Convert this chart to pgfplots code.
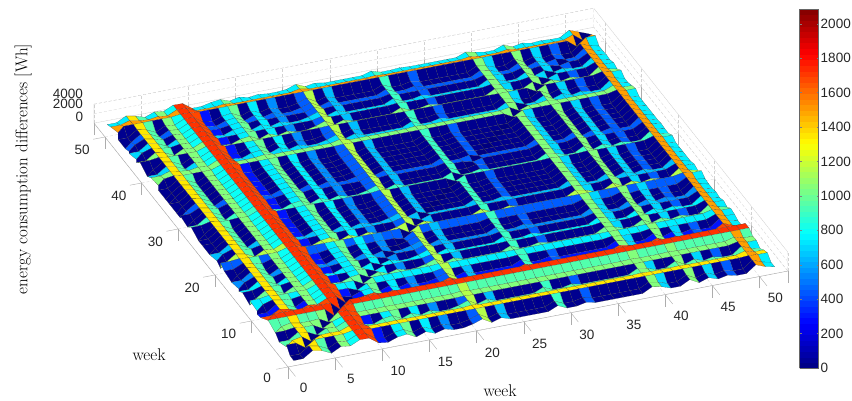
\documentclass[border=0pt]{standalone}
\usepackage{pgfplots}
\pgfplotsset{compat=1.18}
\usepackage{fontspec}
\newfontfamily\lsans{Liberation Sans}
\definecolor{axg}{gray}{0.68}
\begin{document}
\begin{tikzpicture}[x=1pt,y=1pt]
\path[use as bounding box] (0,0) rectangle (852,401);
\begin{axis}[
  at={(288pt,34pt)},anchor=origin,
  x={(9.43pt,1.81pt)},y={(-3.66pt,4.6pt)},z={(0pt,0.00475pt)},
  xmin=0,xmax=53,ymin=0,ymax=53,zmin=0,zmax=4000,
  xtick={0,5,...,50},ytick={0,10,...,50},ztick={0,2000,4000},
  xtick pos=left,ytick pos=left,ztick pos=left,
  grid=major,grid style={densely dashed,gray!35,line width=0.3pt},
  axis line style={draw=none},
  tick style={axg,line width=0.4pt},
  ztick style={draw=none},
  tick align=outside,major tick length=12pt,
  tick label style={font=\lsans\fontsize{13.5}{13.5}\selectfont,text=black!85},
  xticklabel style={xshift=5pt,yshift=-2.5pt},
  yticklabel style={xshift=-2pt,yshift=0pt},
  zticklabel style={yshift=-6pt},
  /pgf/number format/assume math mode=true,
  /pgf/number format/1000 sep={},
  colormap/jet,point meta min=0,point meta max=2086,
  clip=false,
]
\draw[axg,line width=0.4pt] (axis cs:53,0,0)--(axis cs:0,0,0)--(axis cs:0,53,0)--(axis cs:0,53,4000);
\draw[densely dashed,gray!35,line width=0.3pt] (axis cs:0,53,4000)--(axis cs:53,53,4000)--(axis cs:53,0,4000)--(axis cs:53,0,0)--(axis cs:53,53,0)--(axis cs:0,53,0) (axis cs:53,53,0)--(axis cs:53,53,4000);
\addplot3[surf,shader=flat corner,draw=black!75,line width=0.08pt,mesh/rows=52,mesh/cols=52,point meta=\thisrowno{0}] table[row sep=\\,x expr={mod(\coordindex,52)+1},y expr={floor(\coordindex/52)+1},z index=0]{
v\\
0\\30\\1350\\950\\30\\1050\\800\\1720\\1680\\300\\ 30\\750\\1000\\30\\750\\30\\550\\30\\30\\450\\ 1150\\30\\650\\30\\30\\30\\30\\30\\900\\30\\ 30\\450\\30\\30\\30\\30\\30\\30\\1050\\700\\ 30\\30\\1050\\30\\700\\30\\450\\30\\30\\1500\\ 750\\300\\
30\\0\\1350\\950\\30\\1050\\800\\1720\\1680\\300\\ 30\\750\\1000\\30\\750\\30\\550\\30\\30\\450\\ 1150\\30\\650\\30\\30\\30\\30\\30\\900\\30\\ 30\\450\\30\\30\\30\\30\\30\\30\\1050\\700\\ 30\\30\\1050\\30\\700\\30\\450\\30\\30\\1500\\ 750\\300\\
1350\\1350\\0\\1350\\1350\\1350\\1350\\1720\\1680\\1350\\ 1350\\1350\\1350\\1350\\1350\\1350\\1350\\1350\\1350\\1350\\ 1350\\1350\\1350\\1350\\1350\\1350\\1350\\1350\\1350\\1350\\ 1350\\1350\\1350\\1350\\1350\\1350\\1350\\1350\\1350\\1350\\ 1350\\1350\\1350\\1350\\1350\\1350\\1350\\1350\\1350\\1500\\ 1350\\1350\\
950\\950\\1350\\0\\950\\1050\\950\\1720\\1680\\950\\ 950\\950\\1000\\950\\950\\950\\950\\950\\950\\950\\ 1150\\950\\950\\950\\950\\950\\950\\950\\950\\950\\ 950\\950\\950\\950\\950\\950\\950\\950\\1050\\950\\ 950\\950\\1050\\950\\950\\950\\950\\950\\950\\1500\\ 950\\950\\
30\\30\\1350\\950\\0\\1050\\800\\1720\\1680\\300\\ 30\\750\\1000\\30\\750\\30\\550\\30\\30\\450\\ 1150\\30\\650\\30\\30\\30\\30\\30\\900\\30\\ 30\\450\\30\\30\\30\\30\\30\\30\\1050\\700\\ 30\\30\\1050\\30\\700\\30\\450\\30\\30\\1500\\ 750\\300\\
1050\\1050\\1350\\1050\\1050\\0\\1050\\1720\\1680\\1050\\ 1050\\1050\\1050\\1050\\1050\\1050\\1050\\1050\\1050\\1050\\ 1150\\1050\\1050\\1050\\1050\\1050\\1050\\1050\\1050\\1050\\ 1050\\1050\\1050\\1050\\1050\\1050\\1050\\1050\\1050\\1050\\ 1050\\1050\\1050\\1050\\1050\\1050\\1050\\1050\\1050\\1500\\ 1050\\1050\\
950\\950\\1350\\950\\950\\1050\\0\\1720\\1680\\950\\ 950\\950\\1000\\950\\950\\950\\950\\950\\950\\950\\ 1150\\950\\950\\950\\950\\950\\950\\950\\950\\950\\ 950\\950\\950\\950\\950\\950\\950\\950\\1050\\950\\ 950\\950\\1050\\950\\950\\950\\950\\950\\950\\1500\\ 950\\950\\
1720\\1720\\1720\\1720\\1720\\1720\\1720\\0\\1720\\1720\\ 1720\\1720\\1720\\1720\\1720\\1720\\1720\\1720\\1720\\1720\\ 1720\\1720\\1720\\1720\\1720\\1720\\1720\\1720\\1720\\1720\\ 1720\\1720\\1720\\1720\\1720\\1720\\1720\\1720\\1720\\1720\\ 1720\\1720\\1720\\1720\\1720\\1720\\1720\\1720\\1720\\1720\\ 1720\\1720\\
1680\\1680\\1680\\1680\\1680\\1680\\1680\\1720\\0\\1680\\ 1680\\1680\\1680\\1680\\1680\\1680\\1680\\1680\\1680\\1680\\ 1680\\1680\\1680\\1680\\1680\\1680\\1680\\1680\\1680\\1680\\ 1680\\1680\\1680\\1680\\1680\\1680\\1680\\1680\\1680\\1680\\ 1680\\1680\\1680\\1680\\1680\\1680\\1680\\1680\\1680\\1680\\ 1680\\1680\\
300\\300\\1350\\950\\300\\1050\\800\\1720\\1680\\0\\ 300\\750\\1000\\300\\750\\300\\550\\300\\300\\450\\ 1150\\300\\650\\300\\300\\300\\300\\300\\900\\300\\ 300\\450\\300\\300\\300\\300\\300\\300\\1050\\700\\ 300\\300\\1050\\300\\700\\300\\450\\300\\300\\1500\\ 750\\300\\
30\\30\\1350\\950\\30\\1050\\800\\1720\\1680\\300\\ 0\\750\\1000\\30\\750\\30\\550\\30\\30\\450\\ 1150\\30\\650\\30\\30\\30\\30\\30\\900\\30\\ 30\\450\\30\\30\\30\\30\\30\\30\\1050\\700\\ 30\\30\\1050\\30\\700\\30\\450\\30\\30\\1500\\ 750\\300\\
750\\750\\1350\\950\\750\\1050\\800\\1720\\1680\\750\\ 750\\0\\1000\\750\\750\\750\\750\\750\\750\\750\\ 1150\\750\\750\\750\\750\\750\\750\\750\\900\\750\\ 750\\750\\750\\750\\750\\750\\750\\750\\1050\\750\\ 750\\750\\1050\\750\\750\\750\\750\\750\\750\\1500\\ 750\\750\\
1000\\1000\\1350\\1000\\1000\\1050\\1000\\1720\\1680\\1000\\ 1000\\1000\\0\\1000\\1000\\1000\\1000\\1000\\1000\\1000\\ 1150\\1000\\1000\\1000\\1000\\1000\\1000\\1000\\1000\\1000\\ 1000\\1000\\1000\\1000\\1000\\1000\\1000\\1000\\1050\\1000\\ 1000\\1000\\1050\\1000\\1000\\1000\\1000\\1000\\1000\\1500\\ 1000\\1000\\
30\\30\\1350\\950\\30\\1050\\800\\1720\\1680\\300\\ 30\\750\\1000\\0\\750\\30\\550\\30\\30\\450\\ 1150\\30\\650\\30\\30\\30\\30\\30\\900\\30\\ 30\\450\\30\\30\\30\\30\\30\\30\\1050\\700\\ 30\\30\\1050\\30\\700\\30\\450\\30\\30\\1500\\ 750\\300\\
750\\750\\1350\\950\\750\\1050\\800\\1720\\1680\\750\\ 750\\750\\1000\\750\\0\\750\\750\\750\\750\\750\\ 1150\\750\\750\\750\\750\\750\\750\\750\\900\\750\\ 750\\750\\750\\750\\750\\750\\750\\750\\1050\\750\\ 750\\750\\1050\\750\\750\\750\\750\\750\\750\\1500\\ 750\\750\\
30\\30\\1350\\950\\30\\1050\\800\\1720\\1680\\300\\ 30\\750\\1000\\30\\750\\0\\550\\30\\30\\450\\ 1150\\30\\650\\30\\30\\30\\30\\30\\900\\30\\ 30\\450\\30\\30\\30\\30\\30\\30\\1050\\700\\ 30\\30\\1050\\30\\700\\30\\450\\30\\30\\1500\\ 750\\300\\
550\\550\\1350\\950\\550\\1050\\800\\1720\\1680\\550\\ 550\\750\\1000\\550\\750\\550\\0\\550\\550\\550\\ 1150\\550\\650\\550\\550\\550\\550\\550\\900\\550\\ 550\\550\\550\\550\\550\\550\\550\\550\\1050\\700\\ 550\\550\\1050\\550\\700\\550\\550\\550\\550\\1500\\ 750\\550\\
30\\30\\1350\\950\\30\\1050\\800\\1720\\1680\\300\\ 30\\750\\1000\\30\\750\\30\\550\\0\\30\\450\\ 1150\\30\\650\\30\\30\\30\\30\\30\\900\\30\\ 30\\450\\30\\30\\30\\30\\30\\30\\1050\\700\\ 30\\30\\1050\\30\\700\\30\\450\\30\\30\\1500\\ 750\\300\\
30\\30\\1350\\950\\30\\1050\\800\\1720\\1680\\300\\ 30\\750\\1000\\30\\750\\30\\550\\30\\0\\450\\ 1150\\30\\650\\30\\30\\30\\30\\30\\900\\30\\ 30\\450\\30\\30\\30\\30\\30\\30\\1050\\700\\ 30\\30\\1050\\30\\700\\30\\450\\30\\30\\1500\\ 750\\300\\
450\\450\\1350\\950\\450\\1050\\800\\1720\\1680\\450\\ 450\\750\\1000\\450\\750\\450\\550\\450\\450\\0\\ 1150\\450\\650\\450\\450\\450\\450\\450\\900\\450\\ 450\\450\\450\\450\\450\\450\\450\\450\\1050\\700\\ 450\\450\\1050\\450\\700\\450\\450\\450\\450\\1500\\ 750\\450\\
1150\\1150\\1350\\1150\\1150\\1150\\1150\\1720\\1680\\1150\\ 1150\\1150\\1150\\1150\\1150\\1150\\1150\\1150\\1150\\1150\\ 0\\1150\\1150\\1150\\1150\\1150\\1150\\1150\\1150\\1150\\ 1150\\1150\\1150\\1150\\1150\\1150\\1150\\1150\\1150\\1150\\ 1150\\1150\\1150\\1150\\1150\\1150\\1150\\1150\\1150\\1500\\ 1150\\1150\\
30\\30\\1350\\950\\30\\1050\\800\\1720\\1680\\300\\ 30\\750\\1000\\30\\750\\30\\550\\30\\30\\450\\ 1150\\0\\650\\30\\30\\30\\30\\30\\900\\30\\ 30\\450\\30\\30\\30\\30\\30\\30\\1050\\700\\ 30\\30\\1050\\30\\700\\30\\450\\30\\30\\1500\\ 750\\300\\
650\\650\\1350\\950\\650\\1050\\800\\1720\\1680\\650\\ 650\\750\\1000\\650\\750\\650\\650\\650\\650\\650\\ 1150\\650\\0\\650\\650\\650\\650\\650\\900\\650\\ 650\\650\\650\\650\\650\\650\\650\\650\\1050\\700\\ 650\\650\\1050\\650\\700\\650\\650\\650\\650\\1500\\ 750\\650\\
30\\30\\1350\\950\\30\\1050\\800\\1720\\1680\\300\\ 30\\750\\1000\\30\\750\\30\\550\\30\\30\\450\\ 1150\\30\\650\\0\\30\\30\\30\\30\\900\\30\\ 30\\450\\30\\30\\30\\30\\30\\30\\1050\\700\\ 30\\30\\1050\\30\\700\\30\\450\\30\\30\\1500\\ 750\\300\\
30\\30\\1350\\950\\30\\1050\\800\\1720\\1680\\300\\ 30\\750\\1000\\30\\750\\30\\550\\30\\30\\450\\ 1150\\30\\650\\30\\0\\30\\30\\30\\900\\30\\ 30\\450\\30\\30\\30\\30\\30\\30\\1050\\700\\ 30\\30\\1050\\30\\700\\30\\450\\30\\30\\1500\\ 750\\300\\
30\\30\\1350\\950\\30\\1050\\800\\1720\\1680\\300\\ 30\\750\\1000\\30\\750\\30\\550\\30\\30\\450\\ 1150\\30\\650\\30\\30\\0\\30\\30\\900\\30\\ 30\\450\\30\\30\\30\\30\\30\\30\\1050\\700\\ 30\\30\\1050\\30\\700\\30\\450\\30\\30\\1500\\ 750\\300\\
30\\30\\1350\\950\\30\\1050\\800\\1720\\1680\\300\\ 30\\750\\1000\\30\\750\\30\\550\\30\\30\\450\\ 1150\\30\\650\\30\\30\\30\\0\\30\\900\\30\\ 30\\450\\30\\30\\30\\30\\30\\30\\1050\\700\\ 30\\30\\1050\\30\\700\\30\\450\\30\\30\\1500\\ 750\\300\\
30\\30\\1350\\950\\30\\1050\\800\\1720\\1680\\300\\ 30\\750\\1000\\30\\750\\30\\550\\30\\30\\450\\ 1150\\30\\650\\30\\30\\30\\30\\0\\900\\30\\ 30\\450\\30\\30\\30\\30\\30\\30\\1050\\700\\ 30\\30\\1050\\30\\700\\30\\450\\30\\30\\1500\\ 750\\300\\
900\\900\\1350\\950\\900\\1050\\900\\1720\\1680\\900\\ 900\\900\\1000\\900\\900\\900\\900\\900\\900\\900\\ 1150\\900\\900\\900\\900\\900\\900\\900\\0\\900\\ 900\\900\\900\\900\\900\\900\\900\\900\\1050\\900\\ 900\\900\\1050\\900\\900\\900\\900\\900\\900\\1500\\ 900\\900\\
30\\30\\1350\\950\\30\\1050\\800\\1720\\1680\\300\\ 30\\750\\1000\\30\\750\\30\\550\\30\\30\\450\\ 1150\\30\\650\\30\\30\\30\\30\\30\\900\\0\\ 30\\450\\30\\30\\30\\30\\30\\30\\1050\\700\\ 30\\30\\1050\\30\\700\\30\\450\\30\\30\\1500\\ 750\\300\\
30\\30\\1350\\950\\30\\1050\\800\\1720\\1680\\300\\ 30\\750\\1000\\30\\750\\30\\550\\30\\30\\450\\ 1150\\30\\650\\30\\30\\30\\30\\30\\900\\30\\ 0\\450\\30\\30\\30\\30\\30\\30\\1050\\700\\ 30\\30\\1050\\30\\700\\30\\450\\30\\30\\1500\\ 750\\300\\
450\\450\\1350\\950\\450\\1050\\800\\1720\\1680\\450\\ 450\\750\\1000\\450\\750\\450\\550\\450\\450\\450\\ 1150\\450\\650\\450\\450\\450\\450\\450\\900\\450\\ 450\\0\\450\\450\\450\\450\\450\\450\\1050\\700\\ 450\\450\\1050\\450\\700\\450\\450\\450\\450\\1500\\ 750\\450\\
30\\30\\1350\\950\\30\\1050\\800\\1720\\1680\\300\\ 30\\750\\1000\\30\\750\\30\\550\\30\\30\\450\\ 1150\\30\\650\\30\\30\\30\\30\\30\\900\\30\\ 30\\450\\0\\30\\30\\30\\30\\30\\1050\\700\\ 30\\30\\1050\\30\\700\\30\\450\\30\\30\\1500\\ 750\\300\\
30\\30\\1350\\950\\30\\1050\\800\\1720\\1680\\300\\ 30\\750\\1000\\30\\750\\30\\550\\30\\30\\450\\ 1150\\30\\650\\30\\30\\30\\30\\30\\900\\30\\ 30\\450\\30\\0\\30\\30\\30\\30\\1050\\700\\ 30\\30\\1050\\30\\700\\30\\450\\30\\30\\1500\\ 750\\300\\
30\\30\\1350\\950\\30\\1050\\800\\1720\\1680\\300\\ 30\\750\\1000\\30\\750\\30\\550\\30\\30\\450\\ 1150\\30\\650\\30\\30\\30\\30\\30\\900\\30\\ 30\\450\\30\\30\\0\\30\\30\\30\\1050\\700\\ 30\\30\\1050\\30\\700\\30\\450\\30\\30\\1500\\ 750\\300\\
30\\30\\1350\\950\\30\\1050\\800\\1720\\1680\\300\\ 30\\750\\1000\\30\\750\\30\\550\\30\\30\\450\\ 1150\\30\\650\\30\\30\\30\\30\\30\\900\\30\\ 30\\450\\30\\30\\30\\0\\30\\30\\1050\\700\\ 30\\30\\1050\\30\\700\\30\\450\\30\\30\\1500\\ 750\\300\\
30\\30\\1350\\950\\30\\1050\\800\\1720\\1680\\300\\ 30\\750\\1000\\30\\750\\30\\550\\30\\30\\450\\ 1150\\30\\650\\30\\30\\30\\30\\30\\900\\30\\ 30\\450\\30\\30\\30\\30\\0\\30\\1050\\700\\ 30\\30\\1050\\30\\700\\30\\450\\30\\30\\1500\\ 750\\300\\
30\\30\\1350\\950\\30\\1050\\800\\1720\\1680\\300\\ 30\\750\\1000\\30\\750\\30\\550\\30\\30\\450\\ 1150\\30\\650\\30\\30\\30\\30\\30\\900\\30\\ 30\\450\\30\\30\\30\\30\\30\\0\\1050\\700\\ 30\\30\\1050\\30\\700\\30\\450\\30\\30\\1500\\ 750\\300\\
1050\\1050\\1350\\1050\\1050\\1050\\1050\\1720\\1680\\1050\\ 1050\\1050\\1050\\1050\\1050\\1050\\1050\\1050\\1050\\1050\\ 1150\\1050\\1050\\1050\\1050\\1050\\1050\\1050\\1050\\1050\\ 1050\\1050\\1050\\1050\\1050\\1050\\1050\\1050\\0\\1050\\ 1050\\1050\\1050\\1050\\1050\\1050\\1050\\1050\\1050\\1500\\ 1050\\1050\\
700\\700\\1350\\950\\700\\1050\\800\\1720\\1680\\700\\ 700\\750\\1000\\700\\750\\700\\700\\700\\700\\700\\ 1150\\700\\700\\700\\700\\700\\700\\700\\900\\700\\ 700\\700\\700\\700\\700\\700\\700\\700\\1050\\0\\ 700\\700\\1050\\700\\700\\700\\700\\700\\700\\1500\\ 750\\700\\
30\\30\\1350\\950\\30\\1050\\800\\1720\\1680\\300\\ 30\\750\\1000\\30\\750\\30\\550\\30\\30\\450\\ 1150\\30\\650\\30\\30\\30\\30\\30\\900\\30\\ 30\\450\\30\\30\\30\\30\\30\\30\\1050\\700\\ 0\\30\\1050\\30\\700\\30\\450\\30\\30\\1500\\ 750\\300\\
30\\30\\1350\\950\\30\\1050\\800\\1720\\1680\\300\\ 30\\750\\1000\\30\\750\\30\\550\\30\\30\\450\\ 1150\\30\\650\\30\\30\\30\\30\\30\\900\\30\\ 30\\450\\30\\30\\30\\30\\30\\30\\1050\\700\\ 30\\0\\1050\\30\\700\\30\\450\\30\\30\\1500\\ 750\\300\\
1050\\1050\\1350\\1050\\1050\\1050\\1050\\1720\\1680\\1050\\ 1050\\1050\\1050\\1050\\1050\\1050\\1050\\1050\\1050\\1050\\ 1150\\1050\\1050\\1050\\1050\\1050\\1050\\1050\\1050\\1050\\ 1050\\1050\\1050\\1050\\1050\\1050\\1050\\1050\\1050\\1050\\ 1050\\1050\\0\\1050\\1050\\1050\\1050\\1050\\1050\\1500\\ 1050\\1050\\
30\\30\\1350\\950\\30\\1050\\800\\1720\\1680\\300\\ 30\\750\\1000\\30\\750\\30\\550\\30\\30\\450\\ 1150\\30\\650\\30\\30\\30\\30\\30\\900\\30\\ 30\\450\\30\\30\\30\\30\\30\\30\\1050\\700\\ 30\\30\\1050\\0\\700\\30\\450\\30\\30\\1500\\ 750\\300\\
700\\700\\1350\\950\\700\\1050\\800\\1720\\1680\\700\\ 700\\750\\1000\\700\\750\\700\\700\\700\\700\\700\\ 1150\\700\\700\\700\\700\\700\\700\\700\\900\\700\\ 700\\700\\700\\700\\700\\700\\700\\700\\1050\\700\\ 700\\700\\1050\\700\\0\\700\\700\\700\\700\\1500\\ 750\\700\\
30\\30\\1350\\950\\30\\1050\\800\\1720\\1680\\300\\ 30\\750\\1000\\30\\750\\30\\550\\30\\30\\450\\ 1150\\30\\650\\30\\30\\30\\30\\30\\900\\30\\ 30\\450\\30\\30\\30\\30\\30\\30\\1050\\700\\ 30\\30\\1050\\30\\700\\0\\450\\30\\30\\1500\\ 750\\300\\
450\\450\\1350\\950\\450\\1050\\800\\1720\\1680\\450\\ 450\\750\\1000\\450\\750\\450\\550\\450\\450\\450\\ 1150\\450\\650\\450\\450\\450\\450\\450\\900\\450\\ 450\\450\\450\\450\\450\\450\\450\\450\\1050\\700\\ 450\\450\\1050\\450\\700\\450\\0\\450\\450\\1500\\ 750\\450\\
30\\30\\1350\\950\\30\\1050\\800\\1720\\1680\\300\\ 30\\750\\1000\\30\\750\\30\\550\\30\\30\\450\\ 1150\\30\\650\\30\\30\\30\\30\\30\\900\\30\\ 30\\450\\30\\30\\30\\30\\30\\30\\1050\\700\\ 30\\30\\1050\\30\\700\\30\\450\\0\\30\\1500\\ 750\\300\\
30\\30\\1350\\950\\30\\1050\\800\\1720\\1680\\300\\ 30\\750\\1000\\30\\750\\30\\550\\30\\30\\450\\ 1150\\30\\650\\30\\30\\30\\30\\30\\900\\30\\ 30\\450\\30\\30\\30\\30\\30\\30\\1050\\700\\ 30\\30\\1050\\30\\700\\30\\450\\30\\0\\1500\\ 750\\300\\
1500\\1500\\1500\\1500\\1500\\1500\\1500\\1720\\1680\\1500\\ 1500\\1500\\1500\\1500\\1500\\1500\\1500\\1500\\1500\\1500\\ 1500\\1500\\1500\\1500\\1500\\1500\\1500\\1500\\1500\\1500\\ 1500\\1500\\1500\\1500\\1500\\1500\\1500\\1500\\1500\\1500\\ 1500\\1500\\1500\\1500\\1500\\1500\\1500\\1500\\1500\\0\\ 1500\\1500\\
750\\750\\1350\\950\\750\\1050\\800\\1720\\1680\\750\\ 750\\750\\1000\\750\\750\\750\\750\\750\\750\\750\\ 1150\\750\\750\\750\\750\\750\\750\\750\\900\\750\\ 750\\750\\750\\750\\750\\750\\750\\750\\1050\\750\\ 750\\750\\1050\\750\\750\\750\\750\\750\\750\\1500\\ 0\\750\\
300\\300\\1350\\950\\300\\1050\\800\\1720\\1680\\300\\ 300\\750\\1000\\300\\750\\300\\550\\300\\300\\450\\ 1150\\300\\650\\300\\300\\300\\300\\300\\900\\300\\ 300\\450\\300\\300\\300\\300\\300\\300\\1050\\700\\ 300\\300\\1050\\300\\700\\300\\450\\300\\300\\1500\\ 750\\0\\
};
\end{axis}
\pgfplotscolorbardrawstandalone[
  colormap/jet,point meta min=0,point meta max=2086,
  colorbar sampled,
  colorbar style={samples=65,at={(791pt,33pt)},anchor=south west,width=19pt,height=359pt,scale only axis,
    ytick={0,200,...,2000},
    axis line style={black!60,line width=0.3pt},
    tick style={black!50,line width=0.3pt},major tick length=2pt,tick align=inside,
    yticklabel style={font=\lsans\fontsize{13.5}{13.5}\selectfont,text=black!85,anchor=west,xshift=1pt,inner sep=1pt},
    /pgf/number format/assume math mode=true,/pgf/number format/1000 sep={}},
]
\node[font=\fontsize{17}{17}\selectfont] at (149,46) {week};
\node[font=\fontsize{17}{17}\selectfont] at (500,10) {week};
\node[font=\fontsize{17}{17}\selectfont,rotate=90] at (23,232) {energy consumption differences [Wh]};
\end{tikzpicture}
\end{document}
